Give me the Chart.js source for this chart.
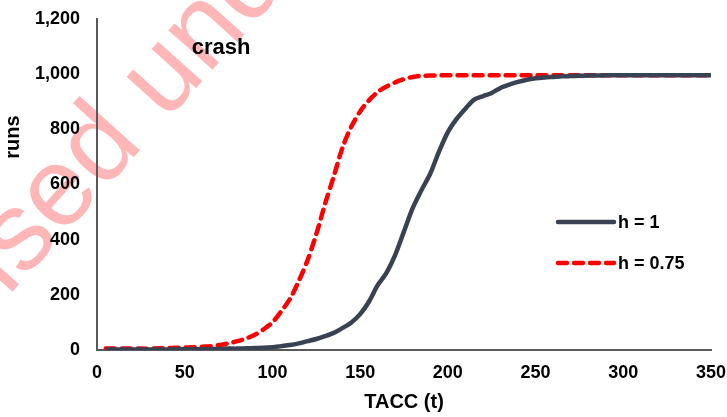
<!DOCTYPE html>
<html>
<head>
<meta charset="utf-8">
<script src="https://cdn.jsdelivr.net/npm/chart.js@4.4.0/dist/chart.umd.min.js"></script>
<style>
  html, body { margin: 0; padding: 0; background: #fff; }
  #wrap { width: 727px; height: 417px; }
</style>
</head>
<body>
<div id="wrap"><canvas id="chart" width="727" height="417"></canvas></div>
<script>
// time steps (TACC)
const tacc = [5, 10, 15, 20, 25, 30, 35, 40, 45, 50, 55, 60, 65, 70, 75, 80, 85, 90, 95, 100,
  105, 110, 115, 120, 125, 130, 135, 140, 145, 150, 155, 160, 165, 170, 175, 180, 185, 190, 195, 200,
  205, 210, 215, 220, 225, 230, 235, 240, 245, 250, 255, 260, 265, 270, 275, 280, 285, 290, 295, 300,
  305, 310, 315, 320, 325, 330, 335, 340, 345, 350];

// runs crashed, h = 1
const runsH1 = [2, 2, 2, 2, 2, 2, 2, 2, 3, 3, 3, 3, 4, 4, 5, 5, 6, 7, 8, 10,
  14, 18, 24, 32, 40, 50, 62, 80, 100, 130, 175, 235, 280, 345, 430, 515, 580, 640, 720, 790,
  838, 875, 908, 920, 932, 950, 962, 972, 980, 985, 988, 990, 992, 993, 994, 995, 995, 996, 996, 996,
  996, 996, 996, 996, 996, 996, 996, 996, 996, 996];

// runs crashed, h = 0.75
const runsH075 = [5, 5, 5, 5, 5, 5, 6, 7, 8, 9, 10, 12, 14, 18, 24, 32, 42, 55, 75, 100,
  140, 185, 250, 325, 420, 530, 630, 735, 810, 865, 905, 935, 955, 970, 982, 990, 994, 995, 996, 996,
  996, 996, 996, 996, 996, 996, 996, 996, 996, 996, 996, 996, 996, 996, 996, 996, 996, 996, 996, 996,
  996, 996, 996, 996, 996, 996, 996, 996, 996, 996];

const seriesLabels = ['h = 1', 'h = 0.75'];
const seriesColors = ['#384252', '#ff0000'];

const FONT = '"Liberation Sans", Arial, sans-serif';

function toPoints(ys) {
  return tacc.map((t, i) => ({ x: t, y: ys[i] }));
}

// text, legend and the faint stamp drawn straight onto the canvas
const decorations = {
  id: 'decorations',
  beforeDraw(chart) {
    const ctx = chart.ctx;
    ctx.save();
    ctx.translate(24, 279);
    ctx.rotate(-48 * Math.PI / 180);
    ctx.font = '112px ' + FONT;
    ctx.fillStyle = 'rgba(255, 40, 40, 0.34)';
    ctx.textBaseline = 'alphabetic';
    const lead = ctx.measureText('Licen').width;
    ctx.fillText('Licensed under', -lead, 0);
    ctx.restore();
  },
  afterDraw(chart) {
    const ctx = chart.ctx;
    const xs = chart.scales.x;
    const ys = chart.scales.y;
    ctx.save();
    ctx.fillStyle = '#000';

    // panel label
    ctx.font = 'bold 22px ' + FONT;
    ctx.textAlign = 'left';
    ctx.textBaseline = 'middle';
    ctx.fillText('crash', xs.getPixelForValue(54), ys.getPixelForValue(1095));

    // axis titles
    ctx.font = 'bold 20px ' + FONT;
    ctx.textAlign = 'center';
    ctx.fillText('TACC (t)', (chart.chartArea.left + chart.chartArea.right) / 2, 402);
    ctx.save();
    ctx.translate(13, 137);
    ctx.rotate(-Math.PI / 2);
    ctx.fillText('runs', 0, 0);
    ctx.restore();

    // legend
    const rows = [222, 263];
    chart.data.datasets.forEach((ds, i) => {
      ctx.save();
      ctx.strokeStyle = ds.borderColor;
      ctx.lineWidth = ds.borderWidth;
      ctx.lineCap = 'round';
      ctx.setLineDash(ds.borderDash || []);
      ctx.beginPath();
      ctx.moveTo(558, rows[i]);
      ctx.lineTo(614, rows[i]);
      ctx.stroke();
      ctx.restore();
      ctx.font = 'bold 18px ' + FONT;
      ctx.textAlign = 'left';
      ctx.textBaseline = 'middle';
      ctx.fillText(ds.label, 618, rows[i] + 1);
    });
    ctx.restore();
  }
};

const ctx = document.getElementById('chart').getContext('2d');
new Chart(ctx, {
  type: 'line',
  data: {
    datasets: [
      {
        label: seriesLabels[0],
        data: toPoints(runsH1),
        borderColor: seriesColors[0],
        borderWidth: 4.5,
        pointRadius: 0,
        tension: 0.3,
        fill: false
      },
      {
        label: seriesLabels[1],
        data: toPoints(runsH075),
        borderColor: seriesColors[1],
        borderWidth: 4.5,
        borderDash: [9, 7],
        borderCapStyle: 'round',
        pointRadius: 0,
        tension: 0.3,
        fill: false
      }
    ]
  },
  options: {
    responsive: false,
    animation: false,
    layout: { padding: { left: 0, right: 16, top: 19, bottom: 0 } },
    plugins: {
      legend: { display: false },
      tooltip: { enabled: false }
    },
    scales: {
      x: {
        type: 'linear',
        min: 0,
        max: 350,
        grid: { display: false, drawTicks: false },
        border: { display: true, color: '#595959', width: 2 },
        ticks: {
          stepSize: 50,
          padding: 12,
          color: '#000',
          font: { family: FONT, size: 18, weight: 'bold' }
        },
        afterFit(scale) {
          scale.height = 67;
          scale.paddingLeft = 0;
          scale.paddingRight = 0;
        }
      },
      y: {
        min: 0,
        max: 1200,
        grid: { display: false, drawTicks: false },
        border: { display: true, color: '#595959', width: 2 },
        ticks: {
          stepSize: 200,
          padding: 17,
          color: '#000',
          font: { family: FONT, size: 18, weight: 'bold' },
          callback: (v) => v.toLocaleString('en-US')
        },
        afterFit(scale) {
          scale.width = 97;
          scale.paddingTop = 0;
          scale.paddingBottom = 0;
        }
      }
    }
  },
  plugins: [decorations]
});
</script>
</body>
</html>
